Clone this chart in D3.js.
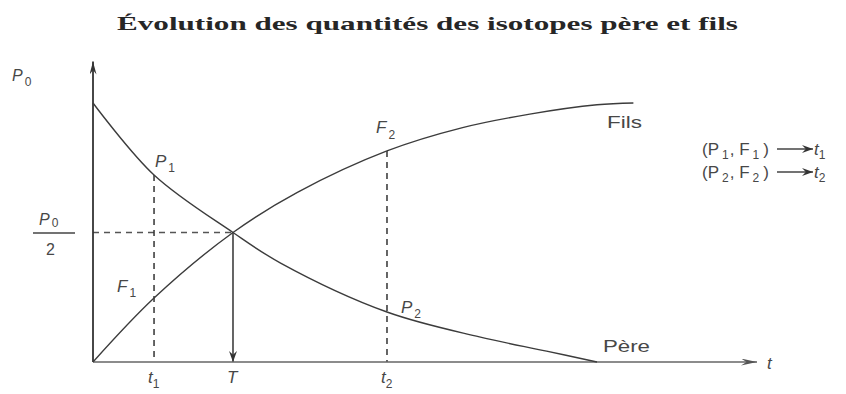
<!DOCTYPE html>
<html>
<head>
<meta charset="utf-8">
<script src="https://cdn.jsdelivr.net/npm/d3@7"></script>
<style>
  html, body { margin: 0; padding: 0; background: #fff; }
  svg { display: block; }
  .lab { font-family: "Liberation Sans", Arial, sans-serif; fill: #474747; }
</style>
</head>
<body>
<svg id="chart" width="846" height="394"></svg>
<script>
// ---- data (time in units of half-life T, quantity in units of P0) ----
const pereT      = [0, 0.436, 1.0, 1.34, 2.1, 2.76, 3.24, 3.6];
const pereValues = [1.0, 0.722, 0.5, 0.382, 0.193, 0.097, 0.042, 0.0];
const filsT      = [0, 0.436, 1.0, 1.46, 2.1, 2.64, 3.12, 3.6, 3.86];
const filsValues = [0, 0.247, 0.5, 0.655, 0.815, 0.905, 0.957, 0.993, 1.0];
const keyTimes   = [0.436, 1.0, 2.1];          // t1, T, t2
const keyLabels  = [["t", "1"], ["T", ""], ["t", "2"]];
const halfLevel  = 0.5;
const axisMaxT   = 4.743;
const axisMaxY   = 1.16;
const titleText  = "Évolution des quantités des isotopes père et fils";

const svg = d3.select("#chart");
const x = d3.scaleLinear().domain([0, axisMaxT]).range([93, 757]);
const y = d3.scaleLinear().domain([0, 1]).range([362, 103]);

const ink = "#3c3c3c";

// markers
const defs = svg.append("defs");
function marker(id, len, wid, color) {
  defs.append("marker").attr("id", id)
    .attr("viewBox", `0 ${-wid/2} ${len} ${wid}`)
    .attr("refX", len).attr("refY", 0)
    .attr("markerUnits", "userSpaceOnUse")
    .attr("markerWidth", len).attr("markerHeight", wid)
    .attr("orient", "auto")
    .append("path").attr("d", `M0,${-wid/2}L${len},0L0,${wid/2}L${len*0.35},0Z`).attr("fill", color);
}
marker("arrAxis", 16, 7, "#555");
marker("arrY", 13, 7, "#333");
marker("arrT", 11, 8, "#333");

// title
svg.append("text")
  .attr("x", 117).attr("y", 30)
  .attr("textLength", 621).attr("lengthAdjust", "spacingAndGlyphs")
  .style("font-family", "'Liberation Serif', 'DejaVu Serif', serif")
  .style("font-weight", "bold").style("font-size", "19px").style("fill", "#262626")
  .text(titleText);

// dashed guides
const dash = "6,5";
const pereAt = t => d3.scaleLinear().domain(pereT).range(pereValues)(t);
const filsAt = t => d3.scaleLinear().domain(filsT).range(filsValues)(t);
svg.append("line").attr("x1", x(0)).attr("x2", x(keyTimes[1]))
  .attr("y1", y(halfLevel)).attr("y2", y(halfLevel))
  .attr("stroke", "#555").attr("stroke-width", 1.3).attr("stroke-dasharray", dash);
svg.append("line").attr("x1", x(keyTimes[0])).attr("x2", x(keyTimes[0]))
  .attr("y1", y(pereAt(keyTimes[0]))).attr("y2", y(0))
  .attr("stroke", "#333").attr("stroke-width", 1.5).attr("stroke-dasharray", dash);
svg.append("line").attr("x1", x(keyTimes[2])).attr("x2", x(keyTimes[2]))
  .attr("y1", y(filsAt(keyTimes[2]))).attr("y2", y(0))
  .attr("stroke", "#333").attr("stroke-width", 1.5).attr("stroke-dasharray", dash);

// T arrow
svg.append("line").attr("x1", x(keyTimes[1])).attr("x2", x(keyTimes[1]))
  .attr("y1", y(halfLevel)).attr("y2", y(0))
  .attr("stroke", "#333").attr("stroke-width", 1.5).attr("marker-end", "url(#arrT)");

// axes
svg.append("line").attr("x1", x(0)).attr("x2", x(axisMaxT)).attr("y1", y(0)).attr("y2", y(0))
  .attr("stroke", "#666").attr("stroke-width", 1.5).attr("marker-end", "url(#arrAxis)");
svg.append("line").attr("x1", x(0)).attr("x2", x(0)).attr("y1", y(0)).attr("y2", y(axisMaxY))
  .attr("stroke", "#333").attr("stroke-width", 1.8).attr("marker-end", "url(#arrY)");

// curves
const line = d3.line().x(d => x(d[0])).y(d => y(d[1])).curve(d3.curveCatmullRom.alpha(0.5));
svg.append("path").datum(pereT.map((t, i) => [t, pereValues[i]]))
  .attr("d", line).attr("fill", "none").attr("stroke", ink).attr("stroke-width", 1.4);
svg.append("path").datum(filsT.map((t, i) => [t, filsValues[i]]))
  .attr("d", line).attr("fill", "none").attr("stroke", ink).attr("stroke-width", 1.4);

// label helper: main letter + subscript
function lab(px, py, main, sub, opts = {}) {
  const size = opts.size || 17, subSize = opts.subSize || 12;
  const t = svg.append("text").attr("class", "lab").attr("x", px).attr("y", py)
    .style("font-size", size + "px");
  t.append("tspan").style("font-style", opts.upright ? "normal" : "italic").text(main);
  if (sub) t.append("tspan").attr("dx", opts.subDx == null ? 2 : opts.subDx)
    .attr("dy", opts.subDy == null ? 5 : opts.subDy)
    .style("font-size", subSize + "px").style("font-style", "normal").text(sub);
  return t;
}

// y labels
lab(12, 81, "P", "0", {size: 16, subDy: 5, subSize: 12});
lab(39, 225, "P", "0", {size: 16, subDy: 2, subSize: 12});
svg.append("line").attr("x1", 33).attr("x2", 75).attr("y1", 233).attr("y2", 233)
  .attr("stroke", "#444").attr("stroke-width", 1.5);
lab(46, 255, "2", "", {size: 16, upright: true});

// point labels
lab(155, 167, "P", "1", {subDy: 5});
lab(117, 292, "F", "1", {subDy: 5});
lab(376, 133, "F", "2", {subDy: 6});
lab(401, 313, "P", "2", {subDy: 5});

// curve names
svg.append("text").attr("class", "lab").attr("x", 607).attr("y", 128)
  .attr("textLength", 35).attr("lengthAdjust", "spacingAndGlyphs")
  .style("font-size", "17px").text("Fils");
svg.append("text").attr("class", "lab").attr("x", 603).attr("y", 352)
  .attr("textLength", 47).attr("lengthAdjust", "spacingAndGlyphs")
  .style("font-size", "17px").text("Père");

// x labels
keyLabels.forEach((k, i) => {
  lab(x(keyTimes[i]) - 6, 383, k[0], k[1], {subDy: 5, subDx: 0});
});
lab(767, 369, "t", "", {size: 17});

// legend
function legendRow(py, idx) {
  const t = svg.append("text").attr("class", "lab").attr("x", 702).attr("y", py)
    .style("font-size", "17px");
  t.append("tspan").text("(P");
  t.append("tspan").attr("dx", 3).attr("dy", 4).style("font-size", "12px").text(idx);
  t.append("tspan").attr("dx", 1).attr("dy", -4).text(",  F");
  t.append("tspan").attr("dx", 3).attr("dy", 4).style("font-size", "12px").text(idx);
  t.append("tspan").attr("dx", 4).attr("dy", -4).text(")");
  svg.append("line").attr("x1", 777).attr("x2", 813).attr("y1", py - 6).attr("y2", py - 6)
    .attr("stroke", "#444").attr("stroke-width", 1.4).attr("marker-end", "url(#arrT)");
  lab(814, py, "t", idx, {subDy: 4, subDx: 0});
}
legendRow(155, "1");
legendRow(178, "2");
</script>
</body>
</html>
